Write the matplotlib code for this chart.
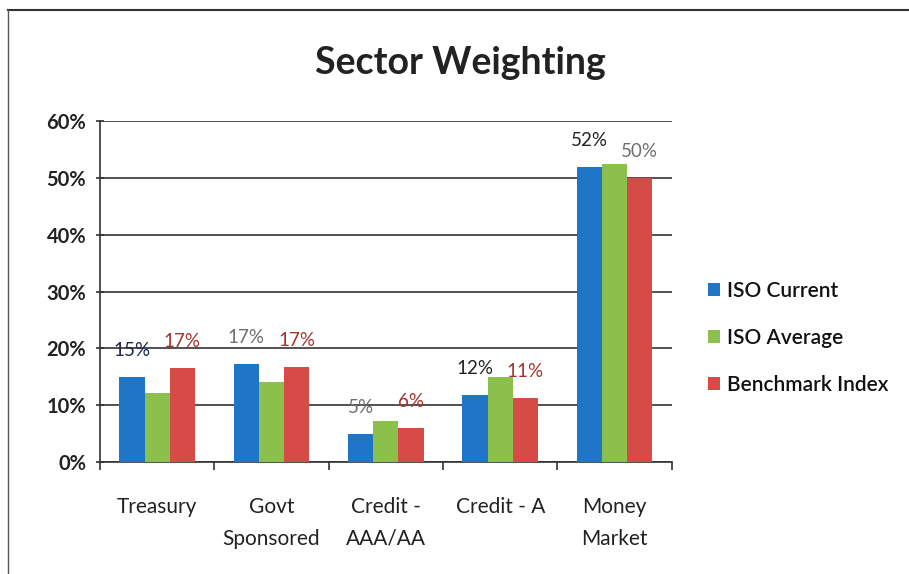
import matplotlib
matplotlib.use("Agg")
import matplotlib.pyplot as plt
import numpy as np
from matplotlib.lines import Line2D

categories = ["Treasury", "Govt\nSponsored", "Credit -\nAAA/AA", "Credit - A", "Money\nMarket"]
series_names = ["ISO Current", "ISO Average", "Benchmark Index"]
iso_current = [15.0, 17.2, 4.9, 11.8, 52.0]
iso_average = [12.1, 14.1, 7.3, 15.0, 52.5]
benchmark = [16.6, 16.8, 6.0, 11.3, 50.0]
colors = ["#1f76c6", "#8bc04c", "#d74b47"]

current_labels = ["15%", "17%", "5%", "12%", "52%"]
current_label_colors = ["#1c2450", "#6e6e6e", "#6e6e6e", "#222222", "#222222"]
bench_labels = ["17%", "17%", "6%", "11%", "50%"]
bench_label_colors = ["#a3342c", "#a3342c", "#a3342c", "#a3342c", "#6e6e6e"]
yticks = [0, 10, 20, 30, 40, 50, 60]

plt.rcParams["font.family"] = ["Lato", "DejaVu Sans"]

fig = plt.figure(figsize=(9.09, 5.74), dpi=100)
ax = fig.add_axes([0.11, 0.195, 0.629, 0.594])

x = np.arange(len(categories))
w = 0.22
data = [iso_current, iso_average, benchmark]
for i, (vals, c, name) in enumerate(zip(data, colors, series_names)):
    ax.bar(x + (i - 1) * w, vals, width=w, color=c, label=name, zorder=3,
           edgecolor="none")

for xi, (v, t, c) in enumerate(zip(iso_current, current_labels, current_label_colors)):
    ax.annotate(t, (xi - w, v), xytext=(0, 19), textcoords="offset points",
                ha="center", va="center", fontsize=13.5, color=c, zorder=4)
for xi, (v, t, c) in enumerate(zip(benchmark, bench_labels, bench_label_colors)):
    ax.annotate(t, (xi + w, v), xytext=(0, 19), textcoords="offset points",
                ha="center", va="center", fontsize=13.5, color=c, zorder=4)

ax.set_xlim(-0.5, len(categories) - 0.5)
ax.set_ylim(0, 60)
ax.set_yticks(yticks)
ax.set_yticklabels([f"{t}%" for t in yticks], fontsize=14.5, fontweight="bold",
                   color="#222222")
ax.yaxis.grid(True, color="#333333", linewidth=1.2, zorder=0)
ax.set_axisbelow(True)

ax.set_xticks(x)
ax.set_xticklabels(categories, fontsize=15, color="#222222", linespacing=1.75)
ax.tick_params(axis="x", length=0, pad=25)
ax.set_xticks(np.arange(-0.5, len(categories)), minor=True)
ax.tick_params(axis="x", which="minor", length=6, width=1.2, color="#333333",
               direction="out")
ax.tick_params(axis="y", length=6, width=1.2, color="#333333", direction="inout",
               pad=7)

for s in ["top", "right"]:
    ax.spines[s].set_visible(False)
for s in ["left", "bottom"]:
    ax.spines[s].set_color("#333333")
    ax.spines[s].set_linewidth(1.2)

leg = ax.legend(loc="center left", bbox_to_anchor=(1.03, 0.365), frameon=False,
                fontsize=15, handlelength=0.6, handleheight=0.6,
                handletextpad=0.35, labelspacing=1.3)
for t in leg.get_texts():
    t.set_fontweight("semibold")
    t.set_color("#111111")

fig.text(0.507, 0.89, "Sector Weighting", ha="center", va="center",
         fontsize=27, fontweight="bold", color="#222222")

fig.add_artist(Line2D([0.009, 1.0], [0.982, 0.982], color="#333333", linewidth=1.5))
fig.add_artist(Line2D([0.009, 0.009], [0.0, 0.982], color="#555555", linewidth=1.0))

fig.savefig("out.png", dpi=100)
